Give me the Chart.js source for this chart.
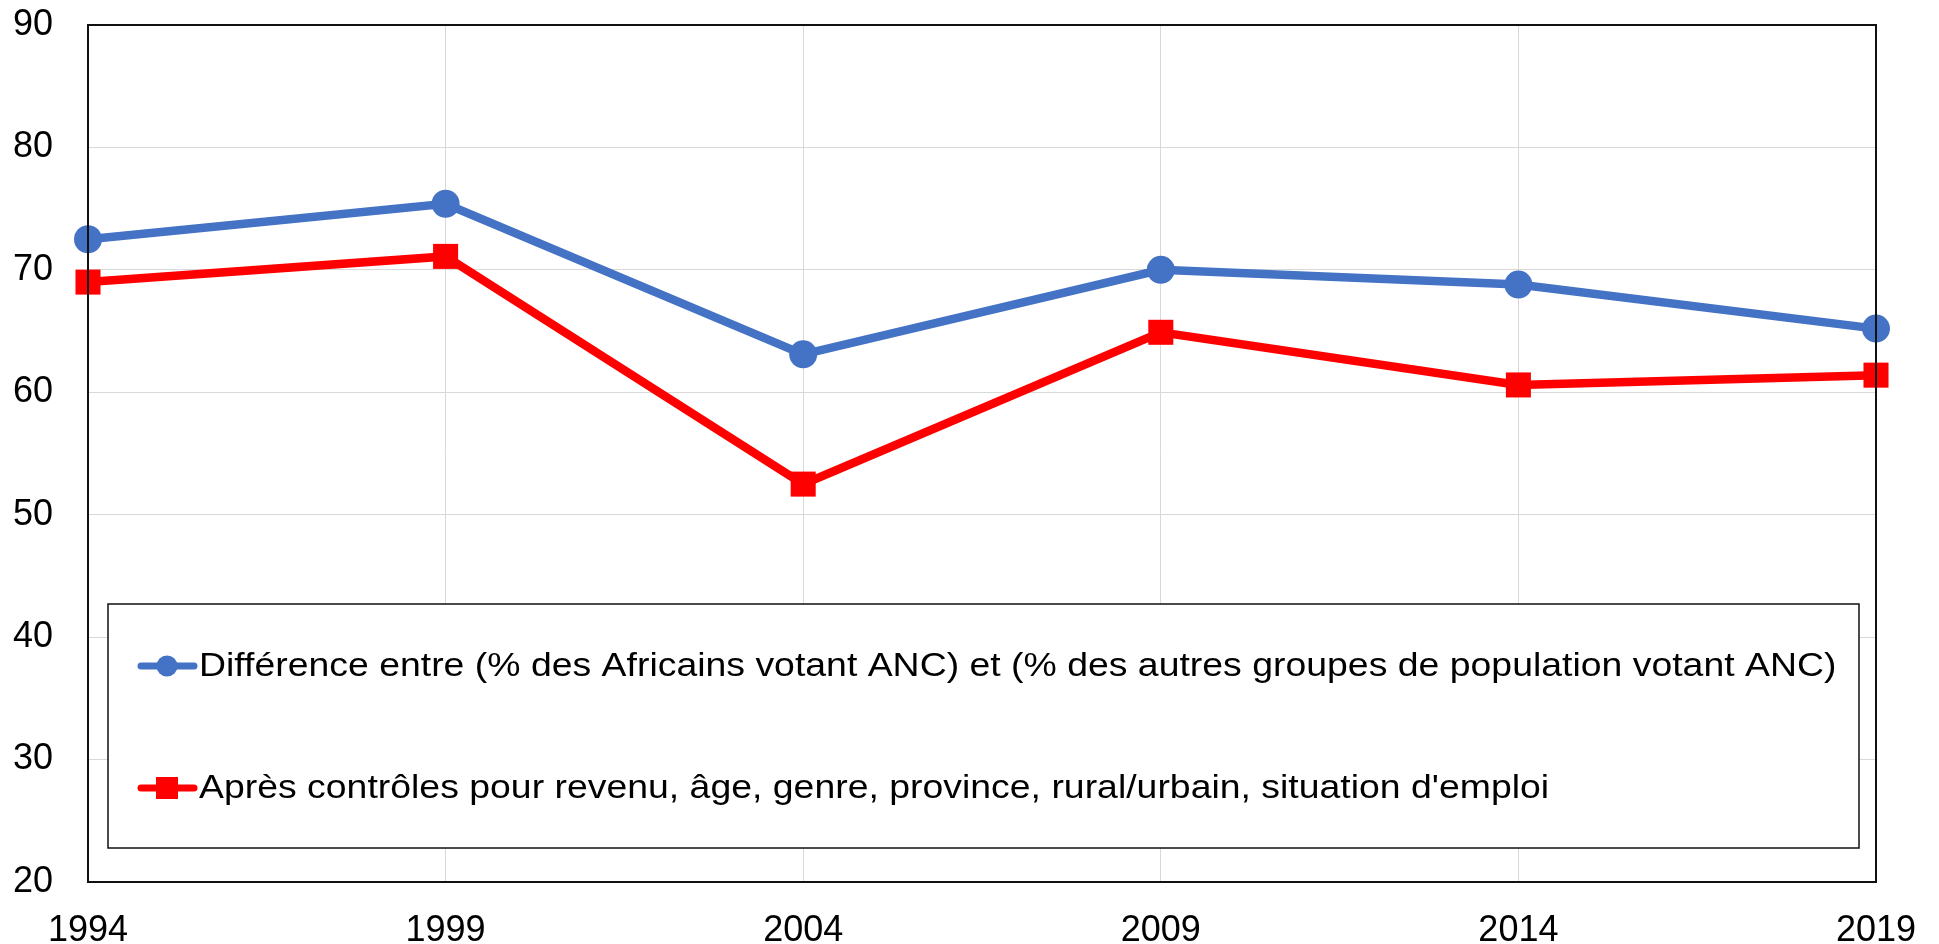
<!DOCTYPE html>
<html>
<head>
<meta charset="utf-8">
<script src="https://cdn.jsdelivr.net/npm/chart.js@4"></script>
<style>
  html, body { margin: 0; padding: 0; background: #fff; }
  #wrap { position: relative; width: 1939px; height: 944px; }
</style>
</head>
<body>
<div id="wrap"><canvas id="c" width="1939" height="944"></canvas></div>
<script>
const years = ['1994', '1999', '2004', '2009', '2014', '2019'];
const seriesDiffLabel = "Différence entre (% des Africains votant ANC) et (% des autres groupes de population votant ANC)";
const seriesDiff = [72.5, 75.4, 63.1, 70.0, 68.8, 65.2];
const seriesCtrlLabel = "Après contrôles pour revenu, âge, genre, province, rural/urbain, situation d'emploi";
const seriesCtrl = [69.0, 71.1, 52.5, 64.9, 60.6, 61.4];
const yTicks = [20, 30, 40, 50, 60, 70, 80, 90];

const FONT = "'Liberation Sans', Arial, sans-serif";

const framePlugin = {
  id: 'frame',
  afterDatasetsDraw(chart) {
    const { ctx, chartArea: a } = chart;
    ctx.save();
    ctx.strokeStyle = '#111';
    ctx.lineWidth = 2;
    ctx.strokeRect(a.left, a.top, a.right - a.left, a.bottom - a.top);
    ctx.restore();
  }
};

const legendBoxPlugin = {
  id: 'legendBox',
  afterDraw(chart) {
    const { ctx } = chart;
    const box = { l: 108, t: 604, r: 1859, b: 848 };
    ctx.save();
    ctx.fillStyle = '#fff';
    ctx.fillRect(box.l, box.t, box.r - box.l, box.b - box.t);
    ctx.strokeStyle = '#111';
    ctx.lineWidth = 1.5;
    ctx.strokeRect(box.l, box.t, box.r - box.l, box.b - box.t);
    const rows = [666, 788];
    chart.data.datasets.forEach((ds, i) => {
      const y = rows[i];
      ctx.strokeStyle = ds.borderColor;
      ctx.lineWidth = 7;
      ctx.lineCap = 'round';
      ctx.beginPath();
      ctx.moveTo(141, y);
      ctx.lineTo(194, y);
      ctx.stroke();
      ctx.fillStyle = ds.borderColor;
      if (ds.pointStyle === 'circle') {
        ctx.beginPath();
        ctx.arc(167, y, 10.5, 0, Math.PI * 2);
        ctx.fill();
      } else {
        ctx.fillRect(156, y - 11, 22, 22);
      }
      ctx.fillStyle = '#000';
      ctx.font = '34px ' + FONT;
      ctx.textBaseline = 'middle';
      ctx.textAlign = 'left';
      ctx.save();
      ctx.translate(199, y + 1);
      ctx.scale(1.1, 1);
      ctx.fillText(ds.label, 0, 0);
      ctx.restore();
    });
    ctx.restore();
  }
};

new Chart(document.getElementById('c'), {
  type: 'line',
  data: {
    labels: years,
    datasets: [
      {
        label: seriesDiffLabel,
        data: seriesDiff,
        borderColor: '#4472C4',
        backgroundColor: '#4472C4',
        borderWidth: 8.5,
        pointStyle: 'circle',
        pointRadius: 14,
        pointHoverRadius: 14,
        pointBorderWidth: 0,
        tension: 0,
        clip: false
      },
      {
        label: seriesCtrlLabel,
        data: seriesCtrl,
        borderColor: '#FF0000',
        backgroundColor: '#FF0000',
        borderWidth: 8.5,
        pointStyle: 'rect',
        pointRadius: 17.7,
        pointHoverRadius: 17.7,
        pointBorderWidth: 0,
        tension: 0,
        clip: false
      }
    ]
  },
  options: {
    responsive: false,
    animation: false,
    events: [],
    layout: { padding: { top: 25, right: 63, bottom: 0, left: 0 } },
    plugins: {
      legend: { display: false },
      title: { display: false },
      tooltip: { enabled: false }
    },
    scales: {
      x: {
        type: 'category',
        offset: false,
        grid: { color: '#D9D9D9', lineWidth: 1, drawTicks: false },
        border: { display: false },
        ticks: {
          color: '#000',
          font: { family: FONT, size: 36 },
          padding: 27,
          maxRotation: 0,
          autoSkip: false
        },
        afterFit(s) { s.height = 62; s.paddingLeft = 0; s.paddingRight = 0; }
      },
      y: {
        min: 20,
        max: 90,
        afterBuildTicks(s) { s.ticks = yTicks.map(v => ({ value: v })); },
        grid: { color: '#D9D9D9', lineWidth: 1, drawTicks: false },
        border: { display: false },
        ticks: {
          color: '#000',
          font: { family: FONT, size: 36 },
          padding: 35
        },
        afterFit(s) { s.width = 88; s.paddingTop = 0; s.paddingBottom = 0; }
      }
    }
  },
  plugins: [framePlugin, legendBoxPlugin]
});
</script>
</body>
</html>
